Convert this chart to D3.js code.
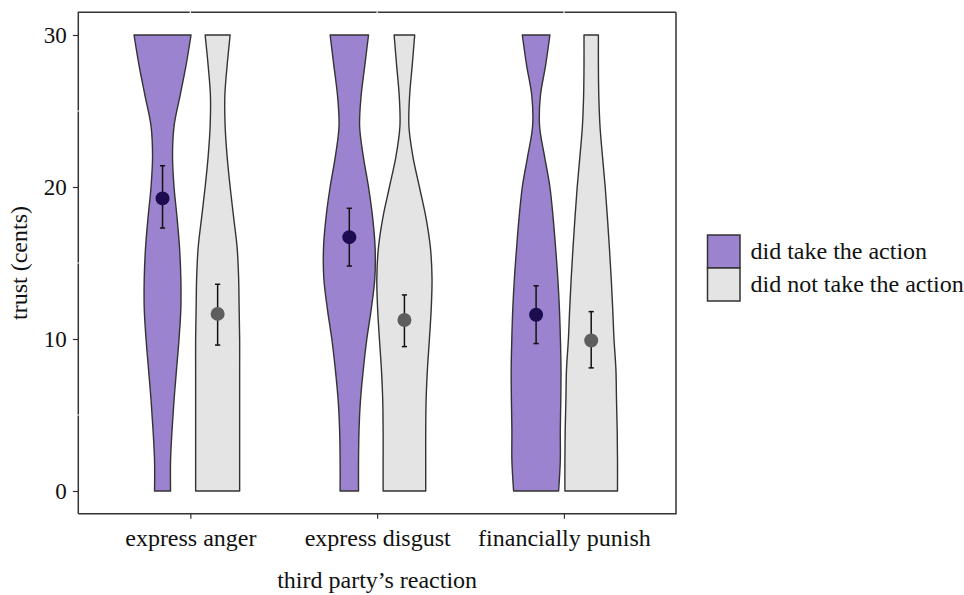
<!DOCTYPE html>
<html>
<head>
<meta charset="utf-8">
<script src="https://cdn.jsdelivr.net/npm/d3@7/dist/d3.min.js"></script>
<style>
  html, body { margin: 0; padding: 0; background: #fff; }
  text { font-family: "Liberation Serif", "Times New Roman", serif; fill: #111; }
</style>
</head>
<body>
<svg id="chart" width="964" height="595"></svg>
<script>
// ---------------- data ----------------
const categories = ["express anger", "express disgust", "financially punish"];
const groups = ["did take the action", "did not take the action"];
const yTicks = [0, 10, 20, 30];

// trust levels at which the violin densities were read
const levels = [0, 2, 4, 6, 8, 10, 12, 14, 16, 18, 20, 22, 24, 26, 28, 30];

// relative density (violin half-width, arbitrary units) per level
const densAngerDid    = [8, 8, 9.5, 11.5, 14, 16.5, 18.3, 18.3, 17, 14.5, 11.5, 10, 11.5, 17.5, 23.5, 28.5];
const densAngerNot    = [22, 22, 22, 22, 22, 22, 21.5, 21, 19.5, 16, 12.5, 9.5, 7.5, 7.2, 9.5, 12.5];
const densDisgustDid  = [9.2, 9.2, 9.7, 11.2, 14, 17.5, 22, 25.5, 25.8, 23.3, 19.2, 14, 10.3, 11.8, 15.5, 19.2];
const densDisgustNot  = [21.3, 21.3, 21.3, 21.7, 23, 25, 26.8, 27.6, 26, 21.5, 15, 8.5, 4.5, 5.2, 7.8, 10.3];
const densPunishDid   = [22.5, 24.2, 24.2, 24.7, 24.9, 24.3, 23.3, 21.7, 19.5, 17, 13.8, 8.5, 3.5, 4.3, 9.5, 13.8];
const densPunishNot   = [26.3, 26.3, 26, 25.3, 24.7, 22.8, 21.5, 20, 18.2, 16.2, 14, 11.3, 8.8, 7.6, 7.2, 7.2];

// means and confidence intervals
const meanDid  = [19.25, 16.7, 11.6];
const lowDid   = [17.3, 14.8, 9.7];
const highDid  = [21.4, 18.6, 13.5];
const meanNot  = [11.65, 11.25, 9.9];
const lowNot   = [9.6, 9.5, 8.1];
const highNot  = [13.6, 12.9, 11.8];

// ---------------- build ----------------
const dens = [
  [densAngerDid, densAngerNot],
  [densDisgustDid, densDisgustNot],
  [densPunishDid, densPunishNot]
];
const violins = [];
categories.forEach((c, ci) => groups.forEach((g, gi) => {
  violins.push({cat: c, group: g, gi,
    pts: levels.map((v, li) => ({v, d: dens[ci][gi][li]}))});
}));
const stats = [];
categories.forEach((c, ci) => {
  stats.push({cat: c, group: groups[0], gi: 0, m: meanDid[ci], lo: lowDid[ci], hi: highDid[ci]});
  stats.push({cat: c, group: groups[1], gi: 1, m: meanNot[ci], lo: lowNot[ci], hi: highNot[ci]});
});

const fills = ["#9b83cf", "#e4e4e4"];
const dotFills = ["#1d0c50", "#5e5e5e"];
const lineCol = "#333";

const panel = {left: 78.3, right: 676, top: 12.2, bottom: 513.8};

const svg = d3.select("#chart");
svg.append("rect").attr("width", 964).attr("height", 595).attr("fill", "#fff");

const x = d3.scalePoint().domain(categories)
  .range([panel.left, panel.right]).padding(0.6);
const step = x.step();
const xOff = d3.scalePoint().domain(groups).range([-0.149 * step, 0.146 * step]);

const y = d3.scaleLinear().domain([-1.5, 31.5]).range([panel.bottom, panel.top]);

const maxD = d3.max(violins, v => d3.max(v.pts, p => p.d));
const w = d3.scaleLinear().domain([0, maxD]).range([0, 0.1526 * step]);

// top and left border
svg.append("path")
  .attr("d", `M${panel.left},${panel.bottom}V${panel.top}H${panel.right}`)
  .attr("fill", "none").attr("stroke", lineCol).attr("stroke-width", 1.5);

// white grid lines (visible only where they cross the border)
const minorY = [5, 15, 25];
svg.append("g").selectAll("line").data(minorY).join("line")
  .attr("x1", panel.left - 1).attr("x2", panel.right - 2)
  .attr("y1", d => y(d)).attr("y2", d => y(d))
  .attr("stroke", "#fff").attr("stroke-width", 1.2);
svg.append("g").selectAll("line").data(categories).join("line")
  .attr("x1", d => x(d)).attr("x2", d => x(d))
  .attr("y1", panel.top - 1).attr("y2", panel.bottom - 2)
  .attr("stroke", "#fff").attr("stroke-width", 1.2);

// right and bottom border
svg.append("path")
  .attr("d", `M${panel.right},${panel.top}V${panel.bottom}H${panel.left}`)
  .attr("fill", "none").attr("stroke", lineCol).attr("stroke-width", 1.5);

// axes
const yAxis = d3.axisLeft(y).tickValues(yTicks).tickSize(5.5).tickPadding(6);
const gy = svg.append("g").attr("transform", `translate(${panel.left},0)`).call(yAxis);
gy.select(".domain").remove();
gy.selectAll("line").attr("stroke", lineCol).attr("stroke-width", 1.2);
gy.selectAll("text").attr("font-size", 23).attr("fill", "#111")
  .attr("font-family", "'Liberation Serif', 'Times New Roman', serif");

const xAxis = d3.axisBottom(x).tickSize(5).tickPadding(10);
const gx = svg.append("g").attr("transform", `translate(0,${panel.bottom})`).call(xAxis);
gx.select(".domain").remove();
gx.selectAll("line").attr("stroke", lineCol).attr("stroke-width", 1.2);
gx.selectAll("text").attr("font-size", 24).attr("fill", "#111")
  .attr("font-family", "'Liberation Serif', 'Times New Roman', serif");

// violins
const area = d3.area()
  .y(p => y(p.v))
  .curve(d3.curveCatmullRom.alpha(0.5));
svg.append("g").selectAll("path").data(violins).join("path")
  .attr("d", vd => {
    const cx = x(vd.cat) + xOff(vd.group);
    return area.x0(p => cx - w(p.d)).x1(p => cx + w(p.d))(vd.pts);
  })
  .attr("fill", vd => fills[vd.gi])
  .attr("stroke", lineCol).attr("stroke-width", 1.4)
  .attr("stroke-linejoin", "round");

// error bars
const eb = svg.append("g");
eb.selectAll("line.v").data(stats).join("line").attr("class", "v")
  .attr("x1", s => x(s.cat) + xOff(s.group)).attr("x2", s => x(s.cat) + xOff(s.group))
  .attr("y1", s => y(s.lo)).attr("y2", s => y(s.hi))
  .attr("stroke", "#111").attr("stroke-width", 1.5);
["lo", "hi"].forEach(k => {
  eb.selectAll("line." + k).data(stats).join("line").attr("class", k)
    .attr("x1", s => x(s.cat) + xOff(s.group) - 2.6).attr("x2", s => x(s.cat) + xOff(s.group) + 2.6)
    .attr("y1", s => y(s[k])).attr("y2", s => y(s[k]))
    .attr("stroke", "#111").attr("stroke-width", 1.5);
});
eb.selectAll("circle").data(stats).join("circle")
  .attr("cx", s => x(s.cat) + xOff(s.group)).attr("cy", s => y(s.m))
  .attr("r", 7).attr("fill", s => dotFills[s.gi]);

// axis titles
svg.append("text").attr("x", (panel.left + panel.right) / 2).attr("y", 588)
  .attr("text-anchor", "middle").attr("font-size", 24).text("third party’s reaction");
svg.append("text").attr("transform", `translate(27,${(panel.top + panel.bottom) / 2}) rotate(-90)`)
  .attr("text-anchor", "middle").attr("font-size", 24).text("trust (cents)");

// legend
const lg = svg.append("g").attr("transform", "translate(707.5,235)");
groups.forEach((g, i) => {
  lg.append("rect").attr("x", 0).attr("y", i * 33).attr("width", 32.5).attr("height", 33)
    .attr("fill", fills[i]).attr("stroke", lineCol).attr("stroke-width", 1.5);
  lg.append("text").attr("x", 43).attr("y", i * 33 + 24).attr("font-size", 24).text(g);
});
</script>
</body>
</html>
